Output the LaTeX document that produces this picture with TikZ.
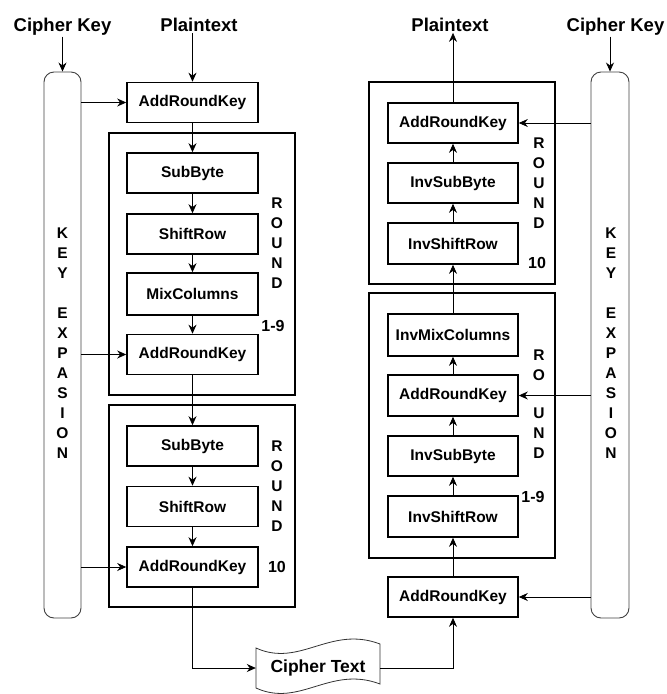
\documentclass[tikz,border=0pt]{standalone}
\usepackage{fontspec}
\setmainfont{Liberation Sans}
\usetikzlibrary{arrows.meta}
\begin{document}
\begin{tikzpicture}[x=1pt,y=-1pt,
  box/.style={draw, line width=1.6pt, fill=white, minimum width=131pt, minimum height=40pt, inner sep=0pt,
    font=\bfseries\fontsize{15.5}{18}\selectfont},
  frame/.style={draw, line width=1.6pt, minimum width=186pt, inner sep=0pt},
  keyexp/.style={draw=black!75, line width=0.9pt, rounded corners=10pt, minimum width=37pt, minimum height=546pt, inner sep=0pt},
  stack/.style={align=center, inner sep=0pt, font=\bfseries\fontsize{15.5}{20}\selectfont},
  lbl/.style={inner sep=0pt, font=\bfseries\fontsize{16}{18}\selectfont},
  toplbl/.style={anchor=base, inner sep=1.5pt, font=\bfseries\fontsize{18.5}{20}\selectfont},
  conn/.style={line width=0.8pt, -{Stealth[length=9pt,width=8pt]}},
  line/.style={line width=0.8pt}]
\useasboundingbox (0,0) rectangle (667,694);

% ---------- left: encryption ----------
\node[toplbl] (ckL) at (62.5,31) {Cipher Key};
\node[toplbl] (ptL) at (199,31) {Plaintext};
\node[keyexp] (kl) at (62.5,345) {};
\node[stack] (klt) at (62.5,343) {K\\E\\Y\\[20pt]E\\X\\P\\A\\S\\I\\O\\N};

\node[frame, minimum height=262pt] (r1L) at (202,264) {};
\node[frame, minimum height=202pt] (r10L) at (202,506) {};

\node[box] (ark1) at (192.5,102.5) {AddRoundKey};
\node[box] (sb1) at (192.5,173) {SubByte};
\node[box] (sr1) at (192.5,234) {ShiftRow};
\node[box, minimum height=42pt] (mc) at (192.5,294) {MixColumns};
\node[box] (ark2) at (192.5,354.5) {AddRoundKey};
\node[box] (sb2) at (192.5,446) {SubByte};
\node[box] (sr2) at (192.5,506.5) {ShiftRow};
\node[box] (ark3) at (192.5,567) {AddRoundKey};

\node[stack] (rdL1) at (277,243) {R\\O\\U\\N\\D};
\node[lbl] (nL1) at (273,326) {1-9};
\node[stack] (rdL2) at (277,486.5) {R\\O\\U\\N\\D};
\node[lbl] (nL2) at (277,567) {10};

% cipher text
\node[inner sep=0pt, minimum width=124pt, minimum height=40pt, font=\bfseries\fontsize{17.5}{20}\selectfont] (ct) at (318,668) {Cipher Text};
\draw[line width=0.8pt, black!80] (256,648) .. controls (300,668) and (330,625) .. (380,644)
  -- (380,684) .. controls (330,665) and (300,708) .. (256,688) -- cycle;

\draw[conn] (ckL.south) -- (kl.north);
\draw[conn] (ptL.south -| ark1.north) -- (ark1.north);
\draw[conn] (ark1.west -| kl.east) -- (ark1.west);
\draw[conn] (ark2.west -| kl.east) -- (ark2.west);
\draw[conn] (ark3.west -| kl.east) -- (ark3.west);
\draw[conn] (ark1) -- (sb1);
\draw[conn] (sb1) -- (sr1);
\draw[conn] (sr1) -- (mc);
\draw[conn] (mc) -- (ark2);
\draw[conn] (ark2) -- (sb2);
\draw[conn] (sb2) -- (sr2);
\draw[conn] (sr2) -- (ark3);
\draw[conn] (ark3.south) |- (ct.west);

% ---------- right: decryption ----------
\node[toplbl] (ptR) at (450,31) {Plaintext};
\node[toplbl] (ckR) at (615.5,31) {Cipher Key};
\node[keyexp, minimum width=38pt] (kr) at (610,345) {};
\node[stack] (krt) at (611,343) {K\\E\\Y\\[20pt]E\\X\\P\\A\\S\\I\\O\\N};

\node[frame, minimum height=202pt] (r10R) at (462,183) {};
\node[frame, minimum height=265pt] (r1R) at (462,425.5) {};

\node[box, minimum width=130pt] (arkR10) at (453,123) {AddRoundKey};
\node[box, minimum width=130pt] (isbR10) at (453,183) {InvSubByte};
\node[box, minimum width=130pt, minimum height=41pt] (isrR10) at (453,243.5) {InvShiftRow};
\node[box, minimum width=130pt, minimum height=42pt] (imc) at (453,335) {InvMixColumns};
\node[box, minimum width=130pt, minimum height=41pt] (arkR) at (453,395.5) {AddRoundKey};
\node[box, minimum width=130pt] (isb) at (453,456) {InvSubByte};
\node[box, minimum width=130pt, minimum height=41pt] (isr) at (453,516.5) {InvShiftRow};
\node[box, minimum width=130pt] (arkF) at (453,597) {AddRoundKey};

\node[stack] (rdR1) at (539,183) {R\\O\\U\\N\\D};
\node[lbl] (nR1) at (537,263) {10};
\node[stack] (rdR2a) at (539,365) {R\\O};
\node[stack] (rdR2b) at (539,433) {U\\N\\D};
\node[lbl] (nR2) at (533,497) {1-9};

\draw[conn] (ckR.south -| kr.north) -- (kr.north);
\draw[conn] (arkR10.north) -- (ptR.south -| arkR10.north);
\draw[conn] (arkR10.east -| kr.west) -- (arkR10.east);
\draw[conn] (arkR.east -| kr.west) -- (arkR.east);
\draw[conn] (arkF.east -| kr.west) -- (arkF.east);
\draw[conn] (ct.east) -| (arkF.south);
\draw[conn] (arkF) -- (isr);
\draw[conn] (isr) -- (isb);
\draw[conn] (isb) -- (arkR);
\draw[conn] (arkR) -- (imc);
\draw[conn] (imc) -- (isrR10);
\draw[conn] (isrR10) -- (isbR10);
\draw[conn] (isbR10) -- (arkR10);
\end{tikzpicture}
\end{document}
